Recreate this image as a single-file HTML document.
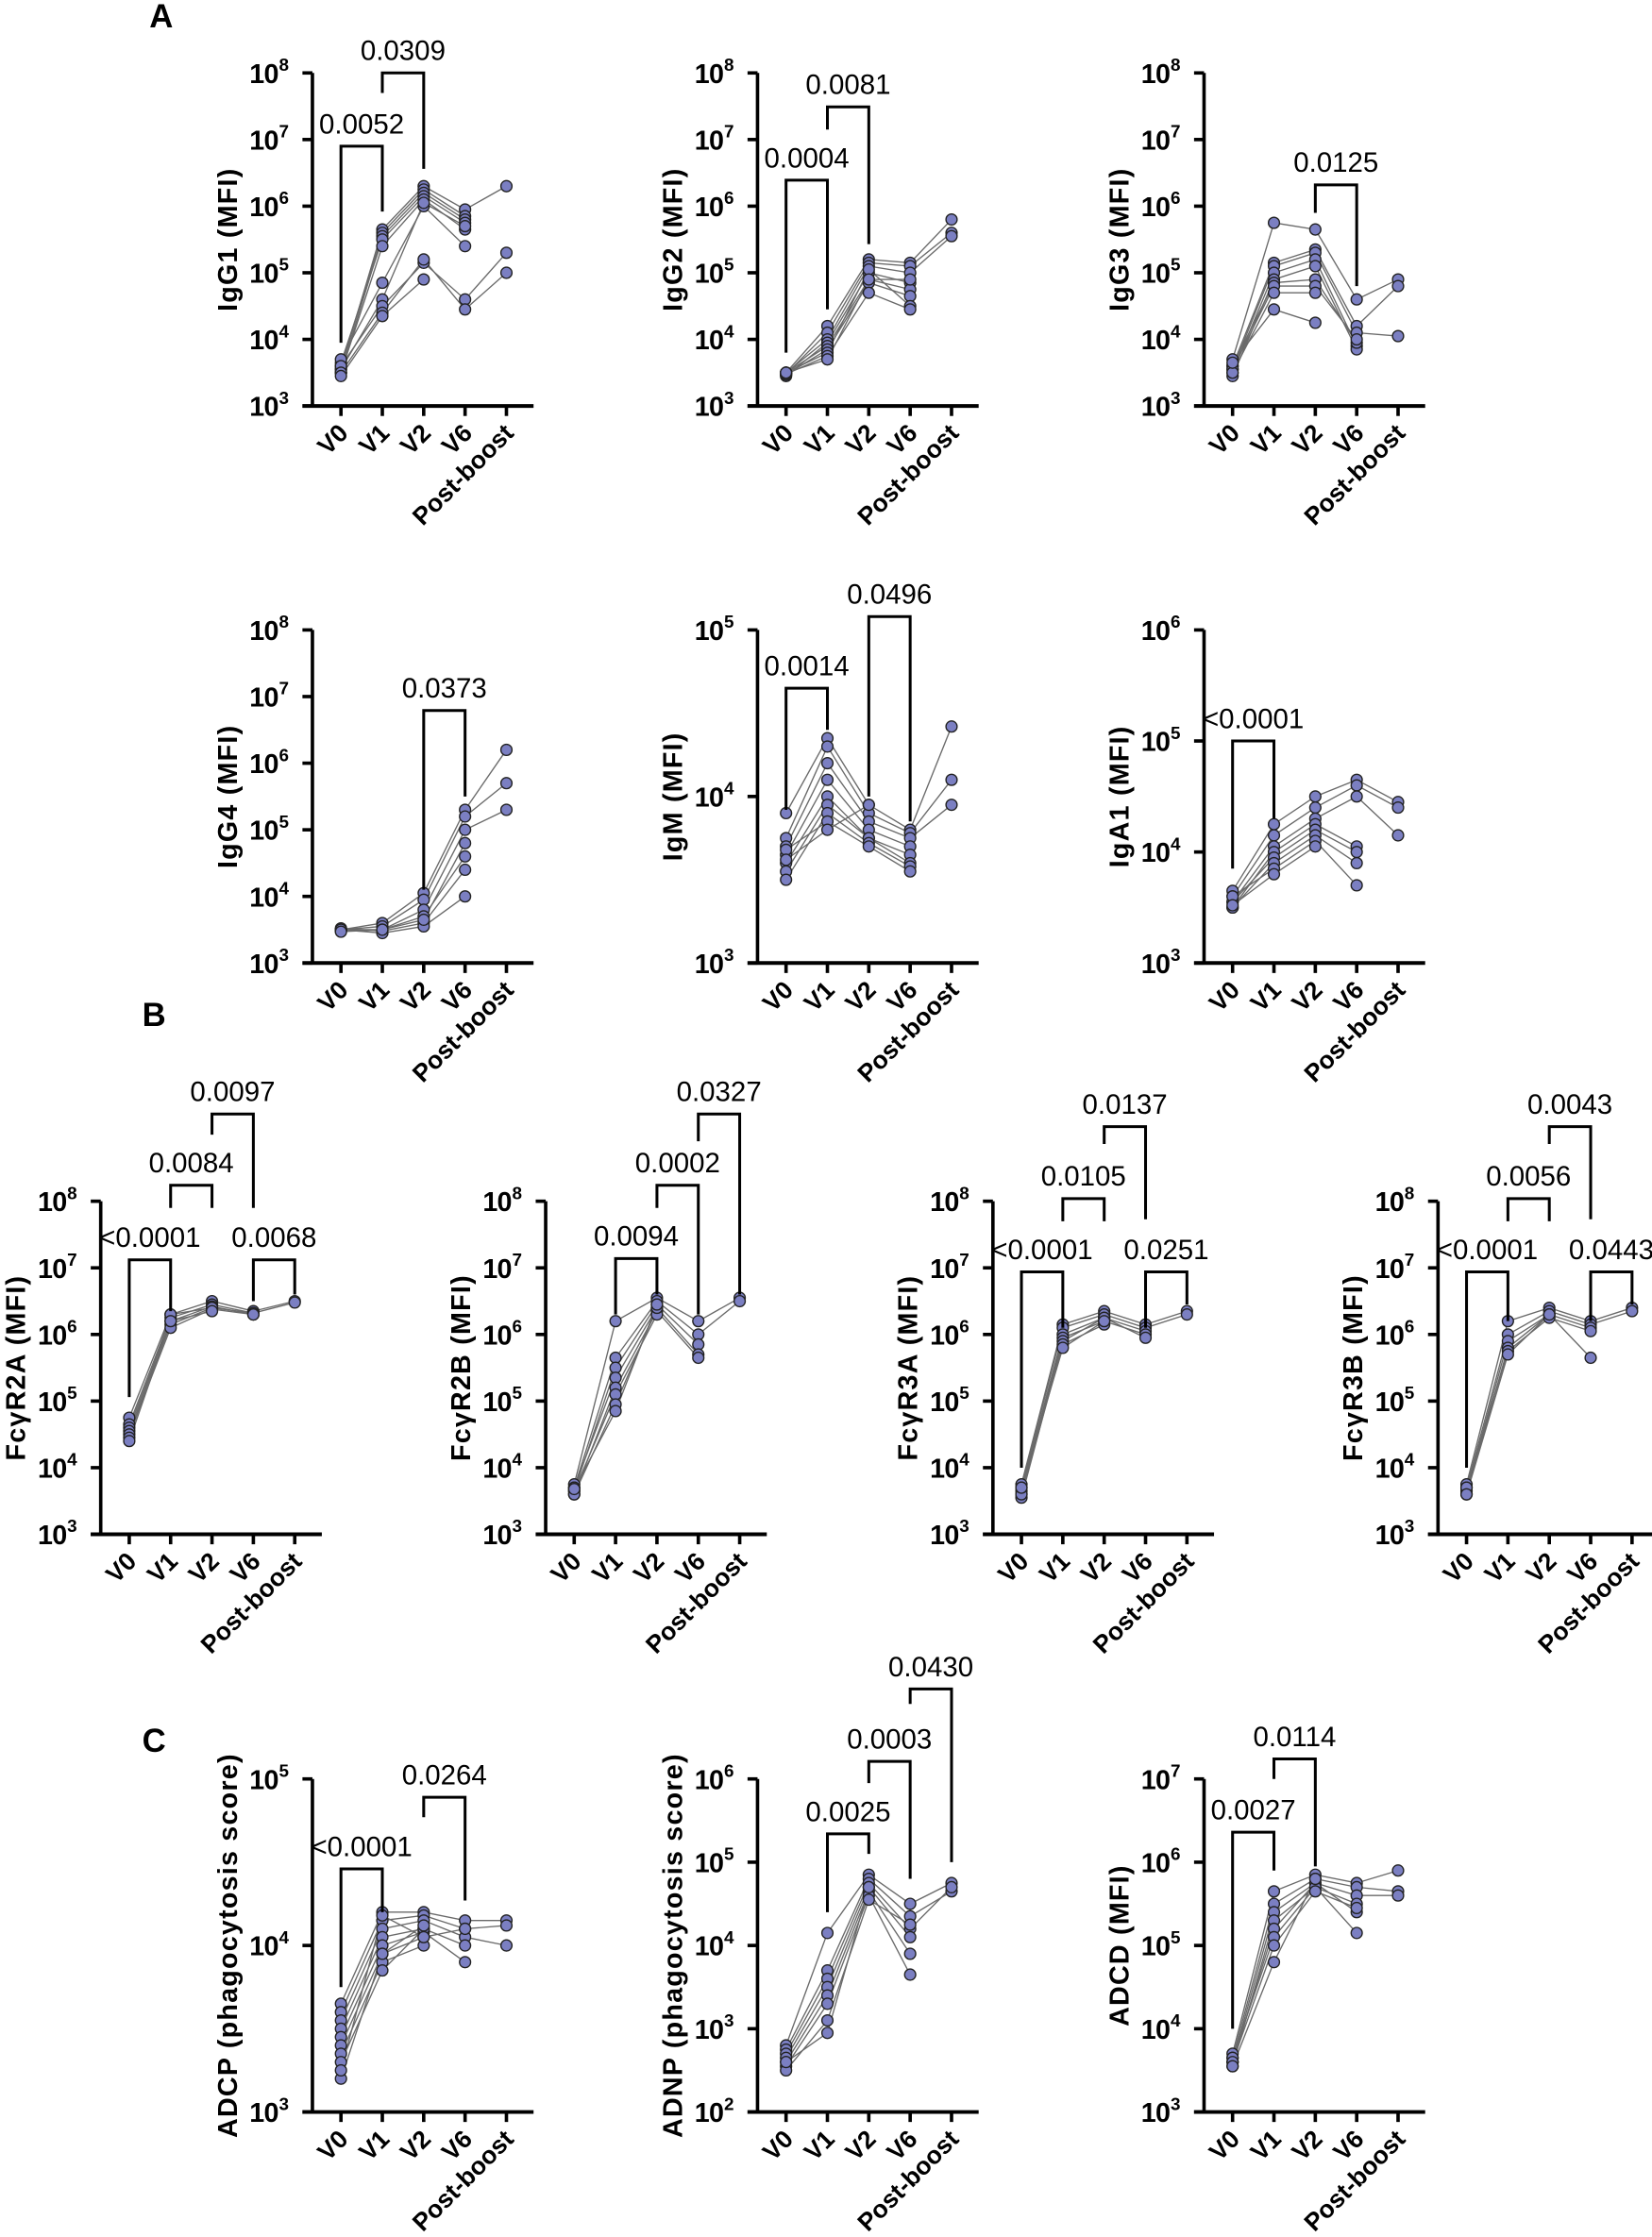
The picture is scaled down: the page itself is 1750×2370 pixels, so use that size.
<!DOCTYPE html>
<html><head><meta charset="utf-8"><style>
html,body{margin:0;padding:0;background:#fff}
svg{display:block}
text{font-family:"Liberation Sans",Arial,sans-serif}
</style></head><body>
<svg id="s" xmlns="http://www.w3.org/2000/svg" width="1750" height="2370" viewBox="0 0 1158 1568"></svg>
<script>
const R1=51,R2=441.5,RB=842,RC=1247,H=233.5;
const P=[
{x:219,t:R1,lo:3,hi:8,ti:"IgG1 (MFI)",d:[[3.55,5.65,6.3,5.95,6.3],[3.6,5.6,6.25,5.85],[3.5,5.55,6.2,5.8],[3.65,5.5,6.15,5.75],[3.5,5.4,6.1,5.65],[3.7,4.85,6.0,5.4],[3.55,4.6,6.05,5.7],[3.6,4.5,5.15,4.6,5.3],[3.5,4.4,5.2,4.45,5.0],[3.45,4.35,4.9]],b:[[0,1,6.9,3.95,5.92,"0.0052"],[1,2,8,7.7,6.56,"0.0309"]]},
{x:531,t:R1,lo:3,hi:8,ti:"IgG2 (MFI)",d:[[3.5,4.2,5.2,5.15,5.8],[3.48,4.1,5.15,5.1,5.6],[3.5,4.0,5.1,5.0,5.55],[3.45,3.95,5.0,4.85],[3.5,3.9,4.9,4.75],[3.47,3.85,4.85,4.65],[3.5,3.8,5.05,4.5],[3.48,3.75,4.7,4.45],[3.5,3.7,4.9,4.9]],b:[[0,1,6.39,3.8,4.45,"0.0004"],[1,2,7.49,7.15,5.43,"0.0081"]]},
{x:844,t:R1,lo:3,hi:8,ti:"IgG3 (MFI)",d:[[3.7,5.75,5.65,4.6,4.9],[3.6,5.15,5.35,4.2,4.8],[3.55,5.1,5.3,4.1,4.05],[3.5,5.0,5.2,3.9],[3.45,4.9,5.1,3.85],[3.6,4.85,4.9,3.95],[3.55,4.8,4.8,4.0],[3.5,4.7,4.7],[3.65,4.45,4.25]],b:[[2,3,6.32,5.9,4.8,"0.0125"]]},
{x:219,t:R2,lo:3,hi:8,ti:"IgG4 (MFI)",d:[[3.5,3.6,4.05,5.3,6.2],[3.5,3.55,3.95,5.2,5.7],[3.48,3.5,3.8,5.0,5.3],[3.5,3.5,3.7,4.6],[3.52,3.48,3.6,4.4],[3.5,3.45,3.55,4.0],[3.47,3.5,3.65,4.8]],b:[[2,3,6.79,4.1,5.5,"0.0373"]]},
{x:531,t:R2,lo:3,hi:5,ti:"IgM (MFI)",d:[[3.9,4.35,3.95,3.8,4.42],[3.75,4.3,3.9,3.78,4.1],[3.7,4.2,3.85,3.75,3.95],[3.65,4.1,3.8,3.7],[3.6,4.0,3.75,3.65],[3.55,3.95,3.75,3.6],[3.5,3.9,3.72,3.58],[3.68,3.85,3.7,3.55],[3.62,3.8,3.95]],b:[[0,1,4.65,3.92,4.4,"0.0014"],[2,3,5.08,4.0,3.85,"0.0496"]]},
{x:844,t:R2,lo:3,hi:6,ti:"IgA1 (MFI)",d:[[3.65,4.25,4.5,4.65,4.45],[3.6,4.15,4.4,4.6,4.4],[3.55,4.05,4.3,4.5,4.15],[3.5,4.0,4.25,4.05],[3.55,3.95,4.2,4.0],[3.5,3.9,4.15,3.9],[3.6,3.85,4.1,3.7],[3.52,3.8,4.05]],b:[[0,1,5.0,3.85,4.3,"<0.0001"]]},
{x:70.6,t:RB,lo:3,hi:8,ti:"FcγR2A (MFI)",d:[[4.75,6.3,6.5,6.35,6.5],[4.65,6.25,6.45,6.32,6.48],[4.6,6.2,6.42,6.3],[4.55,6.15,6.4,6.32],[4.5,6.1,6.38,6.3],[4.45,6.3,6.4],[4.4,6.2,6.35]],b:[[0,1,7.12,5.06,6.35,"<0.0001"],[1,2,8.24,7.9,7.9,"0.0084"],[2,3,9.31,9.0,7.9,"0.0097"],[3,4,7.12,6.5,6.6,"0.0068"]]},
{x:382.5,t:RB,lo:3,hi:8,ti:"FcγR2B (MFI)",d:[[3.75,6.2,6.55,6.2,6.55],[3.7,5.65,6.5,6.0,6.5],[3.65,5.5,6.45,5.85],[3.7,5.35,6.4,5.7],[3.6,5.2,6.35,5.65],[3.65,5.1,6.3],[3.6,4.95,6.4],[3.68,4.85,6.45]],b:[[1,2,7.14,6.3,6.6,"0.0094"],[2,3,8.24,7.9,6.3,"0.0002"],[3,4,9.31,8.9,6.6,"0.0327"]]},
{x:696,t:RB,lo:3,hi:8,ti:"FcγR3A (MFI)",d:[[3.75,6.15,6.35,6.15,6.35],[3.7,6.1,6.3,6.1,6.3],[3.65,6.0,6.25,6.05],[3.6,5.95,6.2,6.0],[3.55,5.9,6.25,5.95],[3.6,5.85,6.15],[3.7,5.8,6.2]],b:[[0,1,6.94,4.0,6.1,"<0.0001"],[1,2,8.04,7.7,7.7,"0.0105"],[2,3,9.12,8.86,7.73,"0.0137"],[3,4,6.94,6.1,6.45,"0.0251"]]},
{x:1008,t:RB,lo:3,hi:8,ti:"FcγR3B (MFI)",d:[[3.75,6.2,6.4,6.2,6.4],[3.7,6.0,6.35,6.15,6.35],[3.65,5.9,6.3,6.1],[3.6,5.8,6.3,5.65],[3.7,5.75,6.25,6.05],[3.6,5.7,6.3]],b:[[0,1,6.94,4.0,6.2,"<0.0001"],[1,2,8.04,7.7,7.7,"0.0056"],[2,3,9.12,8.86,7.73,"0.0043"],[3,4,6.94,6.2,6.45,"0.0443"]]},
{x:219,t:RC,lo:3,hi:5,ti:"ADCP (phagocytosis score)",d:[[3.65,4.2,4.2,4.15,4.15],[3.6,4.15,4.18,4.1,4.12],[3.55,4.1,4.15,4.05,4.0],[3.5,4.05,4.1,4.0],[3.45,4.0,4.08,3.9],[3.4,3.95,4.05,4.1],[3.35,3.9,4.0],[3.3,3.85,4.1],[3.2,3.95,4.12],[3.25,4.18,4.05]],b:[[0,1,4.46,3.75,4.2,"<0.0001"],[2,3,4.89,4.77,4.27,"0.0264"]]},
{x:531,t:RC,lo:2,hi:6,ti:"ADNP (phagocytosis score)",d:[[2.8,4.15,4.85,4.5,4.75],[2.75,3.7,4.8,4.35,4.65],[2.7,3.6,4.75,4.2,4.7],[2.65,3.5,4.7,4.1],[2.6,3.4,4.65,3.9],[2.55,3.3,4.6,3.65],[2.5,3.1,4.55,4.25],[2.6,2.95,4.7]],b:[[1,2,5.34,4.4,5.1,"0.0025"],[2,3,6.21,5.95,4.8,"0.0003"],[3,4,7.08,6.9,5.0,"0.0430"]]},
{x:844,t:RC,lo:3,hi:7,ti:"ADCD (MFI)",d:[[3.7,5.65,5.85,5.75,5.9],[3.65,5.5,5.8,5.7,5.65],[3.6,5.4,5.75,5.6,5.6],[3.55,5.3,5.7,5.5],[3.6,5.2,5.75,5.4],[3.65,5.1,5.7,5.15],[3.6,5.0,5.65,5.45],[3.55,4.8,5.8]],b:[[0,1,6.36,4.0,5.9,"0.0027"],[1,2,7.24,7.0,5.95,"0.0114"]]}
];
const cats=["V0","V1","V2","V6","Post-boost"];
let o="";
o+='<text x="113" y="19" font-size="23" font-weight="bold" text-anchor="middle">A</text>';
o+='<text x="108" y="719" font-size="23" font-weight="bold" text-anchor="middle">B</text>';
o+='<text x="108" y="1228" font-size="23" font-weight="bold" text-anchor="middle">C</text>';
for(const p of P){
  const bot=p.t+H, dec=H/(p.hi-p.lo);
  const Y=v=>bot-(v-p.lo)*dec, X=i=>p.x+20+i*29;
  o+=`<line x1="${p.x}" y1="${p.t}" x2="${p.x}" y2="${bot}" stroke="#000" stroke-width="2.4"/>`;
  o+=`<line x1="${p.x-7}" y1="${bot}" x2="${p.x+155}" y2="${bot}" stroke="#000" stroke-width="2.6"/>`;
  for(let e=p.lo;e<=p.hi;e++){const y=Y(e);
    o+=`<line x1="${p.x-7}" y1="${y}" x2="${p.x}" y2="${y}" stroke="#000" stroke-width="2.4"/>`;
    o+=`<text x="${p.x-24}" y="${y+7}" font-size="19" font-weight="bold" text-anchor="end" letter-spacing="-0.5">10</text><text x="${p.x-23.5}" y="${y-1.5}" font-size="12.5" font-weight="bold">${e}</text>`;}
  for(let i=0;i<5;i++){const x=X(i);
    o+=`<line x1="${x}" y1="${bot}" x2="${x}" y2="${bot+7}" stroke="#000" stroke-width="2.4"/>`;
    o+=`<text transform="translate(${x+6},${bot+20}) rotate(-45)" font-size="17.5" font-weight="bold" text-anchor="end">${cats[i]}</text>`;}
  o+=`<text transform="translate(${p.x-53},${p.t+H/2}) rotate(-90)" font-size="19" font-weight="bold" text-anchor="middle" letter-spacing="0.8">${p.ti}</text>`;
  for(const s of p.d){let pts=[];s.forEach((v,i)=>{if(v!=null)pts.push(X(i)+","+Y(v))});
    o+=`<polyline points="${pts.join(" ")}" fill="none" stroke="#6a6a6a" stroke-width="0.9"/>`;}
  for(const s of p.d){s.forEach((v,i)=>{if(v!=null)o+=`<circle cx="${X(i)}" cy="${Y(v)}" r="3.9" fill="#7b7fc2" stroke="#222" stroke-width="0.9"/>`;});}
  for(const b of p.b){const x1=X(b[0]),x2=X(b[1]),yh=Y(b[2]);
    o+=`<polyline points="${x1},${Y(b[3])} ${x1},${yh} ${x2},${yh} ${x2},${Y(b[4])}" fill="none" stroke="#000" stroke-width="2"/>`;
    o+=`<text x="${(x1+x2)/2}" y="${yh-9}" font-size="19.5" text-anchor="middle">${b[5].replace("<","&lt;")}</text>`;}
}
document.getElementById("s").innerHTML=o;
</script>
</body></html>
